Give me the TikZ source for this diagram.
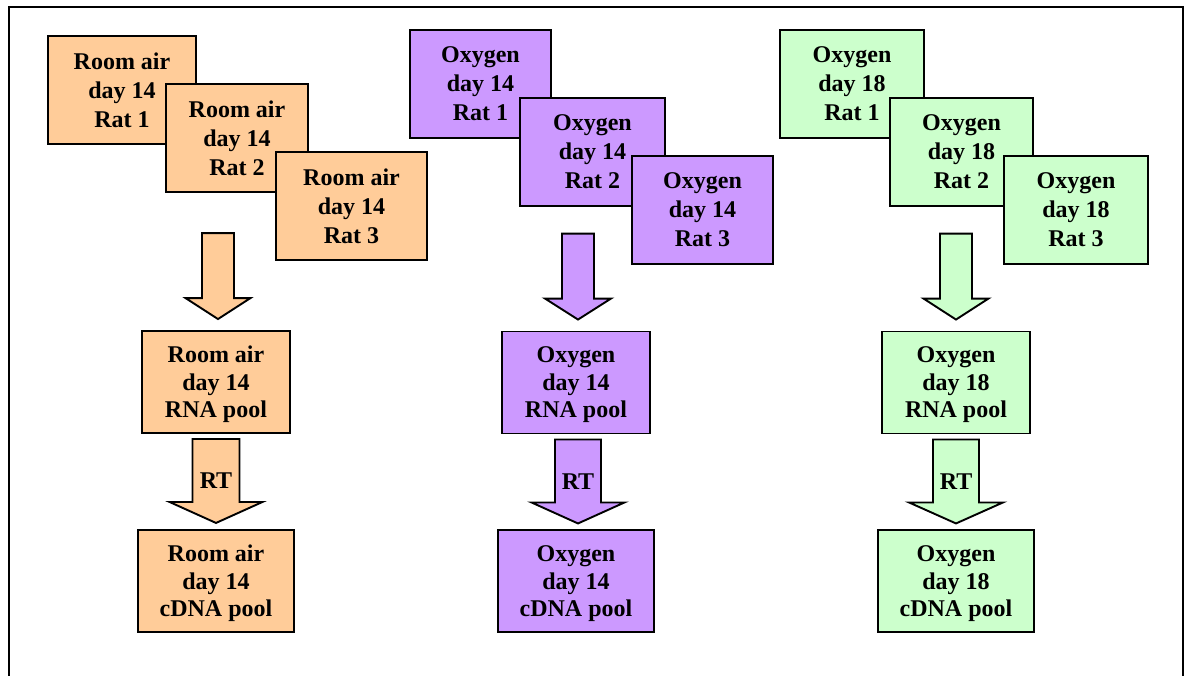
\documentclass[tikz,border=0pt]{standalone}
\usepackage{fontspec}
\setmainfont{Liberation Serif}
\usetikzlibrary{positioning,calc}

\definecolor{roomair}{HTML}{FFCC99}
\definecolor{oxyfourteen}{HTML}{CC99FF}
\definecolor{oxyeighteen}{HTML}{CCFFCC}

\tikzset{
  sample/.style={draw, line width=1.9pt, fill=#1, minimum width=145pt,
    minimum height=108pt, inner sep=0pt, align=center,
    font=\fontsize{24}{29}\selectfont\bfseries},
  pool/.style={sample=#1, minimum width=148pt, minimum height=102pt,
    font=\fontsize{24}{27.5}\selectfont\bfseries, text depth=-7pt},
  fat/.style={draw, line width=1.9pt, fill=#1},
  rtlabel/.style={inner sep=0pt, font=\fontsize{24}{29}\selectfont\bfseries},
}

% block arrow pointing down: colour, tip, length, half shaft, half head
\newcommand{\fatarrow}[5]{%
  \draw[fat=#1] ($(#2)+(-#4,#3)$) -- ($(#2)+(#4,#3)$) -- ($(#2)+(#4,21)$)
    -- ($(#2)+(#5,21)$) -- (#2) -- ($(#2)+(-#5,21)$) -- ($(#2)+(-#4,21)$) -- cycle;}

\begin{document}
\begin{tikzpicture}[x=1pt,y=1pt]

  \useasboundingbox (0,0) rectangle (1189,-675);
  \clip (0,0) rectangle (1189,-675);
  \draw[line width=2pt] (9,-7) rectangle (1183,-700);

  % room air day 14
  \node[sample=roomair, minimum width=148pt] (rar1) at (122,-90) {Room air\\day 14\\Rat 1};
  \node[sample=roomair, minimum width=142pt] (rar2) at (237,-138) {Room air\\day 14\\Rat 2};
  \node[sample=roomair, minimum width=151pt] (rar3) at (351.5,-206) {Room air\\day 14\\Rat 3};
  \node[pool=roomair] (rarna) at (216,-382) {Room air\\day 14\\RNA pool};
  \node[pool=roomair, minimum width=156pt] (racdna) [below=95pt of rarna] {Room air\\day 14\\cDNA pool};

  \coordinate (ratip) at ($(rarna.north)+(2,11)$);
  \coordinate (rartip) at ($(racdna.north)+(0,6)$);
  \fatarrow{roomair}{ratip}{86}{16}{32.5}
  \fatarrow{roomair}{rartip}{84}{23.5}{46.5}
  \node[rtlabel] (rart) at ($(rartip)+(0,42)$) {RT};

  % oxygen day 14
  \node[sample=oxyfourteen, minimum width=141pt] (oa1) at (480.5,-84) {Oxygen\\day 14\\Rat 1};
  \node[sample=oxyfourteen] (oa2) at (592.5,-152) {Oxygen\\day 14\\Rat 2};
  \node[sample=oxyfourteen, minimum width=141pt] (oa3) at (702.5,-210) {Oxygen\\day 14\\Rat 3};
  \node[pool=oxyfourteen] (oarna) at (576,-382.5) {Oxygen\\day 14\\RNA pool};
  \node[pool=oxyfourteen, minimum width=156pt] (oacdna) [below=95pt of oarna] {Oxygen\\day 14\\cDNA pool};

  \coordinate (oatip) at ($(oarna.north)+(2,11)$);
  \coordinate (oartip) at ($(oacdna.north)+(2,6)$);
  \fatarrow{oxyfourteen}{oatip}{86}{16}{33}
  \fatarrow{oxyfourteen}{oartip}{84}{23}{46.5}
  \node[rtlabel] (oart) at ($(oartip)+(0,42)$) {RT};

  % oxygen day 18
  \node[sample=oxyeighteen, minimum width=144pt] (ob1) at (852,-84) {Oxygen\\day 18\\Rat 1};
  \node[sample=oxyeighteen, minimum width=143pt] (ob2) at (961.5,-152) {Oxygen\\day 18\\Rat 2};
  \node[sample=oxyeighteen, minimum width=144pt] (ob3) at (1076,-210) {Oxygen\\day 18\\Rat 3};
  \node[pool=oxyeighteen] (obrna) at (956,-382.5) {Oxygen\\day 18\\RNA pool};
  \node[pool=oxyeighteen, minimum width=156pt] (obcdna) [below=95pt of obrna] {Oxygen\\day 18\\cDNA pool};

  \coordinate (obtip) at ($(obrna.north)+(0,11)$);
  \coordinate (obrtip) at ($(obcdna.north)+(0,6)$);
  \fatarrow{oxyeighteen}{obtip}{86}{16}{32.5}
  \fatarrow{oxyeighteen}{obrtip}{84}{23}{47}
  \node[rtlabel] (obrt) at ($(obrtip)+(0,42)$) {RT};

\end{tikzpicture}
\end{document}
